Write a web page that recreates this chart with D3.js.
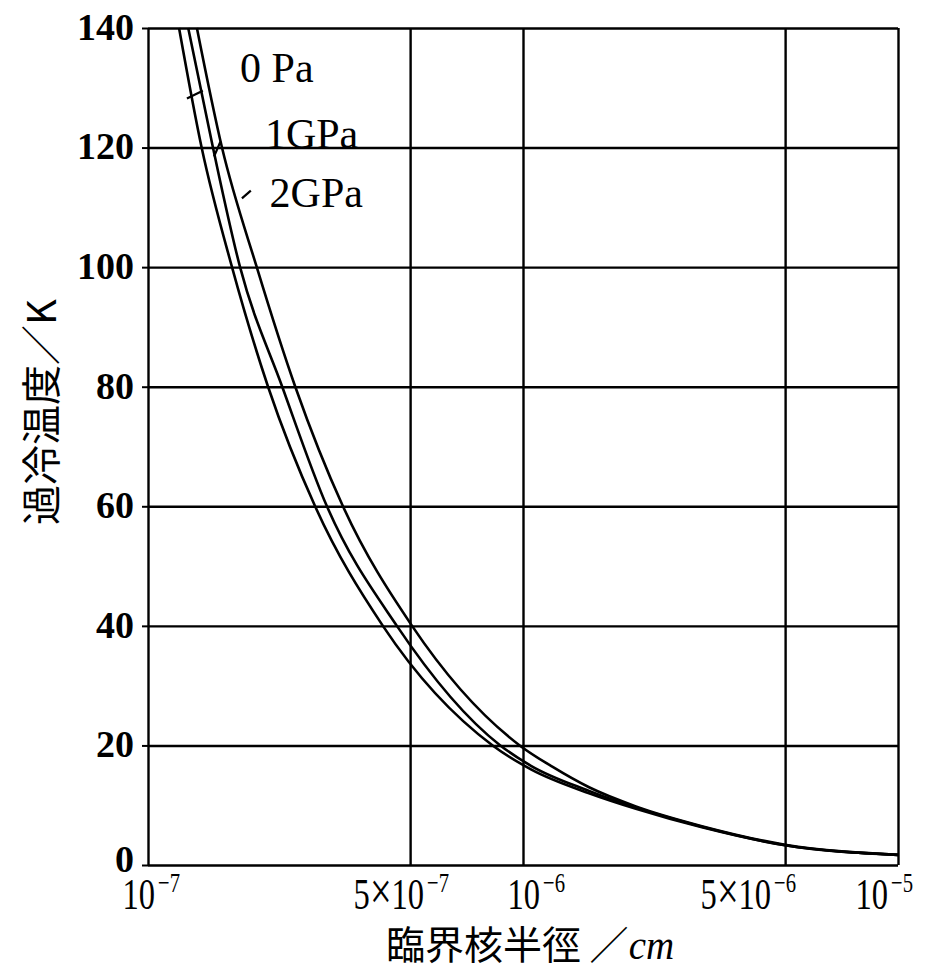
<!DOCTYPE html>
<html>
<head>
<meta charset="utf-8">
<script src="https://cdn.jsdelivr.net/npm/d3@7"></script>
<style>
  body { margin: 0; background: #fff; }
  svg text { fill: #000; }
</style>
</head>
<body>
<div id="mainChart"></div>
<script>
// critical nucleus radius (cm) vs undercooling (K)
const radius0Pa = [1.35e-7, 1.575e-7, 1.95e-7, 2.47e-7, 3.31e-7, 5.06e-7, 9.8e-7, 1.2e-6, 1.5e-6, 2e-6, 3e-6, 5e-6, 1e-5];
const undercool0Pa = [140, 120, 100, 80, 60, 40, 20, 16.4, 13.0, 9.8, 6.5, 3.4, 1.7];

const radius1GPa = [1.28e-7, 1.49e-7, 1.76e-7, 2.28e-7, 3.0e-7, 4.61e-7, 8.7e-7, 1.05e-6, 1.5e-6, 2e-6, 3e-6, 5e-6, 1e-5];
const undercool1GPa = [140, 120, 100, 80, 60, 40, 20, 16.6, 12.4, 9.6, 6.4, 3.3, 1.7];

const radius2GPa = [1.21e-7, 1.39e-7, 1.675e-7, 2.09e-7, 2.79e-7, 4.23e-7, 8.3e-7, 1.05e-6, 1.5e-6, 2e-6, 3e-6, 5e-6, 1e-5];
const undercool2GPa = [140, 120, 100, 80, 60, 40, 20, 16.0, 12.0, 9.4, 6.3, 3.3, 1.7];

const seriesNames = ['0 Pa', '1GPa', '2GPa'];

const yTicks = [0, 20, 40, 60, 80, 100, 120, 140];
const xTicks = [1e-7, 5e-7, 1e-6, 5e-6, 1e-5];
const xTickMantissa = ['', '5', '', '5', ''];
const xTickExponent = ['−7', '−7', '−6', '−6', '−5'];

const yTitle = '過冷温度／K';
const xTitle = '臨界核半徑 ／';
const xTitleUnit = 'cm';

const CHART_SIZE = { width: 952, height: 974 };
const MARGIN = { top: 28, right: 54, bottom: 109, left: 148 };
// horizontal start of each x label relative to its tick
const xLabelShift = [-26, -57, -16, -85, -43];

const x = d3.scaleLog()
    .domain([1e-7, 1e-5])
    .range([MARGIN.left, CHART_SIZE.width - MARGIN.right]);

const y = d3.scaleLinear()
    .domain([0, 140])
    .range([CHART_SIZE.height - MARGIN.bottom, MARGIN.top]);

const svg = d3.select('#mainChart')
    .append('svg')
    .attr('width', CHART_SIZE.width)
    .attr('height', CHART_SIZE.height);

const serif = '"Liberation Serif", "DejaVu Serif", serif';
const cjk = '"Noto Sans CJK JP", sans-serif';

// horizontal grid + y labels
const yAxis = svg.append('g')
    .attr('transform', `translate(${MARGIN.left},0)`)
    .call(d3.axisLeft(y)
        .tickValues(yTicks)
        .tickSize(6)
        .tickPadding(8)
        .tickFormat(d3.format('d')));
yAxis.select('.domain').remove();
yAxis.selectAll('line').attr('stroke', '#000').attr('stroke-width', 2);
yAxis.selectAll('text')
    .style('font-family', serif)
    .style('font-size', '38px')
    .style('font-weight', 'bold')
    .attr('dy', d => d === 0 ? '0.18em' : '0.3em');

svg.append('g')
    .attr('transform', `translate(${MARGIN.left},0)`)
    .call(d3.axisLeft(y)
        .tickValues(yTicks)
        .tickSize(-(x.range()[1] - x.range()[0]))
        .tickFormat(''))
    .call(g => g.select('.domain').remove())
    .selectAll('line')
    .attr('stroke', '#000')
    .attr('stroke-width', 2.4);

// vertical grid + x labels
const xAxis = svg.append('g')
    .attr('transform', `translate(0,${y(0)})`)
    .call(d3.axisBottom(x)
        .tickValues(xTicks)
        .tickSize(-(y.range()[0] - y.range()[1]))
        .tickFormat(''));
xAxis.select('.domain').remove();
xAxis.selectAll('line').attr('stroke', '#000').attr('stroke-width', 2.4);

xAxis.selectAll('.tick').each(function(d, i) {
    const t = d3.select(this).append('text')
        .attr('transform', `translate(${xLabelShift[i]},44) scale(0.74,1)`)
        .attr('text-anchor', 'start')
        .style('font-family', serif)
        .style('font-size', '44px');
    if (xTickMantissa[i]) {
        t.append('tspan').text(xTickMantissa[i]);
        t.append('tspan').style('font-size', '52px').text('×');
    }
    t.append('tspan').text('10');
    t.append('tspan')
        .attr('dy', -17)
        .attr('dx', 4)
        .style('font-size', '28px')
        .text(xTickExponent[i]);
});

// curves
const line = d3.line()
    .x(d => x(d[0]))
    .y(d => y(d[1]))
    .curve(d3.curveMonotoneX);

const curves = [
    d3.zip(radius0Pa, undercool0Pa),
    d3.zip(radius1GPa, undercool1GPa),
    d3.zip(radius2GPa, undercool2GPa)
];

svg.append('g')
    .selectAll('path')
    .data(curves)
    .join('path')
    .attr('fill', 'none')
    .attr('stroke', '#000')
    .attr('stroke-width', 2.6)
    .attr('d', line);

// legend labels beside the curves
const labelPos = [
    [1.76e-7, 131],
    [2.05e-7, 120],
    [2.11e-7, 110]
];
svg.append('g')
    .selectAll('text')
    .data(seriesNames)
    .join('text')
    .attr('x', (d, i) => x(labelPos[i][0]))
    .attr('y', (d, i) => y(labelPos[i][1]))
    .style('font-family', serif)
    .style('font-size', '42px')
    .text(d => d);

// small leader marks
const leaders = [
    [[1.27e-7, 128.2], [1.40e-7, 129.5]],
    [[1.50e-7, 118.5], [1.56e-7, 121]],
    [[1.78e-7, 111.5], [1.88e-7, 112.8]]
];
svg.append('g')
    .selectAll('path')
    .data(leaders)
    .join('path')
    .attr('fill', 'none')
    .attr('stroke', '#000')
    .attr('stroke-width', 2.2)
    .attr('d', d3.line().x(d => x(d[0])).y(d => y(d[1])));

// axis titles
const xt = svg.append('text')
    .attr('x', 530)
    .attr('y', 959)
    .attr('text-anchor', 'middle')
    .style('font-family', cjk)
    .style('font-size', '39px');
xt.append('tspan').text(xTitle);
xt.append('tspan')
    .style('font-family', serif)
    .style('font-style', 'italic')
    .text(xTitleUnit);

svg.append('text')
    .attr('transform', `translate(56,412) rotate(-90)`)
    .attr('text-anchor', 'middle')
    .style('font-family', cjk)
    .style('font-size', '40px')
    .text(yTitle);
</script>
</body>
</html>
